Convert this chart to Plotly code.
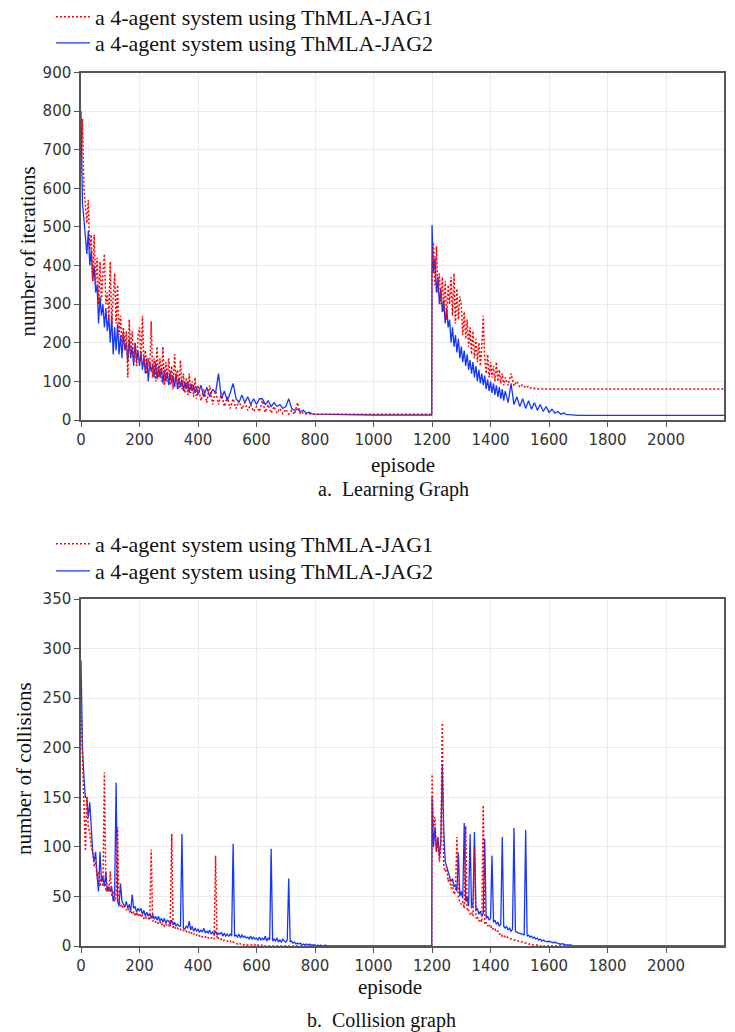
import plotly.graph_objects as go

# ---------------- data ----------------
# (a) learning graph: episode sample points
ep_a = (list(range(0, 400, 5)) + list(range(400, 800, 10)) + [800, 1000, 1199]
        + list(range(1200, 1450, 5)) + list(range(1450, 1700, 10)) + [1700, 1900, 2100, 2200])

iter_jag1 = [
    640, 780, 600, 560, 510, 570, 440, 480, 360, 480, 350, 420, 300, 410, 310, 380, 430, 300, 330, 260,
    410, 250, 330, 380, 250, 350, 220, 270, 200, 240, 180, 230, 110, 260, 170, 230, 150, 200, 140, 220,
    240, 150, 270, 140, 180, 120, 160, 130, 255, 110, 160, 100, 190, 110, 160, 100, 190, 90, 150, 100,
    160, 90, 140, 80, 170, 100, 130, 80, 155, 80, 120, 70, 110, 65, 120, 70, 100, 60, 110, 55,
    90, 50, 80, 45, 90, 40, 75, 40, 70, 35, 60, 30, 55, 30, 50, 28, 45, 25, 40, 22,
    35, 22, 50, 20, 40, 18, 35, 18, 30, 16, 28, 15, 25, 15, 45, 15, 20, 15, 16, 15,
    15, 15, 15,
    400, 460, 350, 450, 330, 380, 300, 370, 280, 360, 260, 350, 300, 370, 270, 380, 250, 340, 260, 320,
    300, 220, 280, 210, 260, 190, 240, 170, 230, 160, 210, 150, 200, 140, 190, 270, 160, 120, 170, 110,
    150, 110, 140, 100, 150, 100, 130, 95, 120, 90,
    110, 90, 120, 88, 100, 85, 92, 83, 88, 81, 82, 80, 80, 80, 80, 80, 80, 80, 80, 80, 80, 80, 80, 80, 80,
    80, 80, 80, 80,
]

iter_jag2 = [
    800, 560, 520, 470, 430, 490, 400, 440, 360, 400, 330, 350, 250, 320, 270, 300, 240, 290, 230, 270,
    200, 270, 170, 240, 180, 250, 170, 220, 160, 230, 180, 200, 150, 210, 160, 190, 140, 200, 150, 180,
    140, 175, 130, 165, 120, 160, 100, 150, 125, 145, 110, 150, 105, 140, 110, 135, 95, 130, 100, 125,
    90, 125, 95, 115, 85, 120, 80, 110, 85, 105, 75, 100, 80, 100, 70, 95, 75, 90, 70, 85,
    65, 90, 60, 85, 60, 80, 70, 120, 55, 75, 50, 70, 95, 55, 45, 65, 45, 60, 40, 55,
    40, 55, 55, 40, 50, 35, 45, 35, 40, 30, 35, 55, 30, 25, 28, 22, 25, 18, 20, 16,
    15, 13, 13,
    505, 380, 420, 330, 370, 300, 340, 280, 310, 250, 290, 240, 260, 200, 240, 190, 220, 175, 210, 160,
    190, 150, 180, 140, 170, 130, 155, 120, 150, 110, 140, 100, 130, 95, 120, 90, 115, 80, 105, 75,
    100, 70, 95, 65, 90, 60, 85, 55, 80, 50,
    75, 45, 95, 40, 60, 35, 55, 30, 50, 28, 45, 25, 40, 22, 35, 20, 28, 18, 22, 15, 18, 14, 14, 13, 12,
    12, 12, 12, 12,
]

# (b) collision graph: episode sample points
ep_b = (list(range(0, 850, 5)) + [850, 1000, 1199]
        + list(range(1200, 1700, 5)) + [1700, 1900, 2100, 2200])

coll_jag1 = [
    240, 190, 150, 96, 150, 120, 115, 100, 95, 80, 85, 70, 75, 60, 70, 60, 175, 55, 60, 55,
    75, 50, 55, 45, 50, 120, 45, 40, 42, 38, 40, 36, 38, 34, 36, 32, 35, 30, 34, 30,
    33, 29, 31, 28, 30, 27, 28, 26, 97, 25, 26, 24, 25, 22, 24, 21, 23, 20, 22, 20,
    21, 19, 113, 18, 19, 17, 18, 16, 17, 15, 16, 14, 15, 13, 14, 12, 14, 12, 13, 11,
    12, 10, 11, 9, 10, 9, 10, 8, 9, 8, 9, 7, 91, 7, 8, 6, 7, 5, 6, 5,
    5, 4, 5, 3, 4, 3, 3, 2, 3, 2, 2, 1, 2, 1, 1, 1, 1, 1, 0, 1,
    0, 1, 0, 0, 1, 0, 0, 0, 0, 0, 0, 0, 0, 0, 0, 0, 0, 0, 0, 0,
    0, 0, 0, 0, 0, 0, 0, 0, 0, 0, 0, 0, 0, 0, 0, 0, 0, 0, 0, 0,
    0, 0, 0, 0, 0, 0, 0, 0, 0, 0,
    0, 0, 0,
    173, 120, 130, 95, 110, 85, 100, 225, 80, 75, 80, 65, 70, 58, 62, 52, 55, 110, 48, 45,
    42, 45, 38, 121, 35, 36, 32, 34, 30, 100, 28, 30, 25, 27, 24, 142, 22, 24, 20, 22,
    18, 20, 16, 17, 14, 15, 12, 13, 10, 11, 9, 10, 8, 8, 7, 7, 6, 6, 5, 5,
    5, 4, 4, 3, 3, 3, 2, 2, 2, 1, 1, 1, 1, 1, 0, 1, 0, 0, 0, 0,
    0, 0, 0, 0, 0, 0, 0, 0, 0, 0, 0, 0, 0, 0, 0, 0, 0, 0, 0, 0,
    0, 0, 0, 0,
]

coll_jag2 = [
    288, 200, 170, 150, 150, 130, 145, 120, 95, 85, 95, 70, 55, 95, 65, 70, 60, 75, 55, 60,
    55, 60, 45, 50, 165, 45, 40, 63, 45, 42, 40, 45, 38, 42, 35, 52, 38, 40, 34, 38,
    35, 38, 32, 36, 30, 34, 30, 33, 28, 32, 27, 30, 26, 30, 25, 28, 24, 28, 23, 26,
    25, 22, 26, 21, 24, 20, 22, 20, 20, 113, 18, 17, 20, 18, 25, 16, 20, 15, 18, 15,
    17, 14, 16, 14, 18, 13, 15, 13, 16, 12, 14, 12, 15, 11, 13, 12, 14, 10, 13, 10,
    12, 10, 12, 10, 103, 10, 11, 9, 12, 8, 11, 9, 10, 8, 9, 7, 10, 7, 9, 7,
    8, 6, 9, 6, 8, 6, 10, 5, 8, 6, 98, 5, 7, 5, 8, 4, 6, 4, 7, 5,
    4, 6, 68, 4, 5, 3, 4, 2, 3, 2, 3, 1, 2, 1, 2, 1, 2, 1, 1, 1,
    1, 0, 1, 0, 1, 0, 0, 1, 0, 0,
    0, 0, 0,
    150, 100, 120, 95, 110, 90, 105, 182, 117, 85, 80, 75, 70, 65, 68, 60, 62, 55, 94, 50,
    55, 48, 124, 45, 50, 40, 113, 38, 42, 115, 36, 38, 32, 35, 30, 33, 108, 28, 30, 26,
    28, 91, 24, 26, 22, 24, 20, 22, 110, 20, 18, 20, 16, 18, 15, 17, 119, 15, 14, 13,
    13, 12, 12, 11, 117, 10, 11, 9, 10, 8, 9, 7, 8, 6, 7, 5, 6, 5, 5, 4,
    5, 4, 4, 3, 4, 3, 3, 2, 2, 2, 2, 1, 1, 1, 1, 1, 0, 0, 0, 0,
    0, 0, 0, 0,
]

assert len(ep_a) == len(iter_jag1) == len(iter_jag2), (len(ep_a), len(iter_jag1), len(iter_jag2))
assert len(ep_b) == len(coll_jag1) == len(coll_jag2), (len(ep_b), len(coll_jag1), len(coll_jag2))

x_ticks = [0, 200, 400, 600, 800, 1000, 1200, 1400, 1600, 1800, 2000]
iter_ticks = [0, 100, 200, 300, 400, 500, 600, 700, 800, 900]
coll_ticks = [0, 50, 100, 150, 200, 250, 300, 350]

name1 = "a 4-agent system using ThMLA-JAG1"
name2 = "a 4-agent system using ThMLA-JAG2"

# ---------------- figure ----------------
W, H = 735, 1032
RED = "rgb(255,0,0)"
BLUE = "rgb(20,55,255)"
SERIF = "Liberation Serif, Times New Roman, serif"
SANS = "DejaVu Sans, sans-serif"
RED_DASH = "2px,2px"


def px(x):
    return x / W


def py(y):
    return 1 - y / H


fig = go.Figure()
fig.add_trace(go.Scatter(x=ep_a, y=iter_jag2, mode="lines", name=name2,
                         line=dict(color=BLUE, width=1.3), xaxis="x", yaxis="y",
                         legend="legend2"))
fig.add_trace(go.Scatter(x=ep_a, y=iter_jag1, mode="lines", name=name1,
                         line=dict(color=RED, width=1.5, dash=RED_DASH), xaxis="x", yaxis="y",
                         legend="legend"))
fig.add_trace(go.Scatter(x=ep_b, y=coll_jag2, mode="lines", name=name2,
                         line=dict(color=BLUE, width=1.3), xaxis="x2", yaxis="y2",
                         legend="legend4"))
fig.add_trace(go.Scatter(x=ep_b, y=coll_jag1, mode="lines", name=name1,
                         line=dict(color=RED, width=1.5, dash=RED_DASH), xaxis="x2", yaxis="y2",
                         legend="legend3"))

axis_common = dict(showline=True, linecolor="#555", linewidth=1.5, mirror=True,
                   showgrid=True, gridcolor="#ebebeb", gridwidth=1,
                   ticks="outside", ticklen=5, tickcolor="#555", tickwidth=1,
                   tickfont=dict(family=SANS, size=15, color="#333"), zeroline=False)

leg_font = dict(family=SERIF, size=22, color="#111")


def leg(ycenter):
    return dict(x=px(51), y=py(ycenter), xanchor="left", yanchor="middle",
                bgcolor="rgba(0,0,0,0)", font=leg_font, tracegroupgap=0, itemwidth=34)


xdom = [px(81), px(724)]
fig.update_layout(
    width=W, height=H,
    margin=dict(l=0, r=0, t=0, b=0, autoexpand=False),
    paper_bgcolor="white", plot_bgcolor="white",
    xaxis=dict(domain=xdom, range=[0, 2198], tickvals=x_ticks, anchor="y", **axis_common),
    yaxis=dict(domain=[py(420), py(72.5)], range=[0, 900], tickvals=iter_ticks, anchor="x", **axis_common),
    xaxis2=dict(domain=xdom, range=[0, 2198], tickvals=x_ticks, anchor="y2", **axis_common),
    yaxis2=dict(domain=[py(946), py(599)], range=[0, 350], tickvals=coll_ticks, anchor="x2", **axis_common),
    legend=leg(17),
    legend2=leg(43),
    legend3=leg(544),
    legend4=leg(571),
    showlegend=True,
)

ann_font = dict(family=SERIF, size=21, color="#111")
cap_font = dict(family=SERIF, size=20, color="#111")
annotations = [
    dict(text="episode", x=px(403), y=py(465), font=ann_font),
    dict(text="a.  Learning Graph", x=px(393), y=py(490), font=cap_font),
    dict(text="episode", x=px(389.5), y=py(987), font=ann_font),
    dict(text="b.  Collision graph", x=px(381.5), y=py(1020), font=cap_font),
    dict(text="number of iterations", x=px(27), y=py(251.5), font=ann_font, textangle=-90),
    dict(text="number of collisions", x=px(24), y=py(769), font=ann_font, textangle=-90),
]
for a in annotations:
    a.update(xref="paper", yref="paper", xanchor="center", yanchor="middle", showarrow=False)
fig.update_layout(annotations=annotations)

# remove the browser's default 8px body margin so the figure fills the window exactly
fig.write_html("out.html", config={"displayModeBar": False},
               post_script="document.body.style.margin='0';document.body.style.overflow='hidden';")
